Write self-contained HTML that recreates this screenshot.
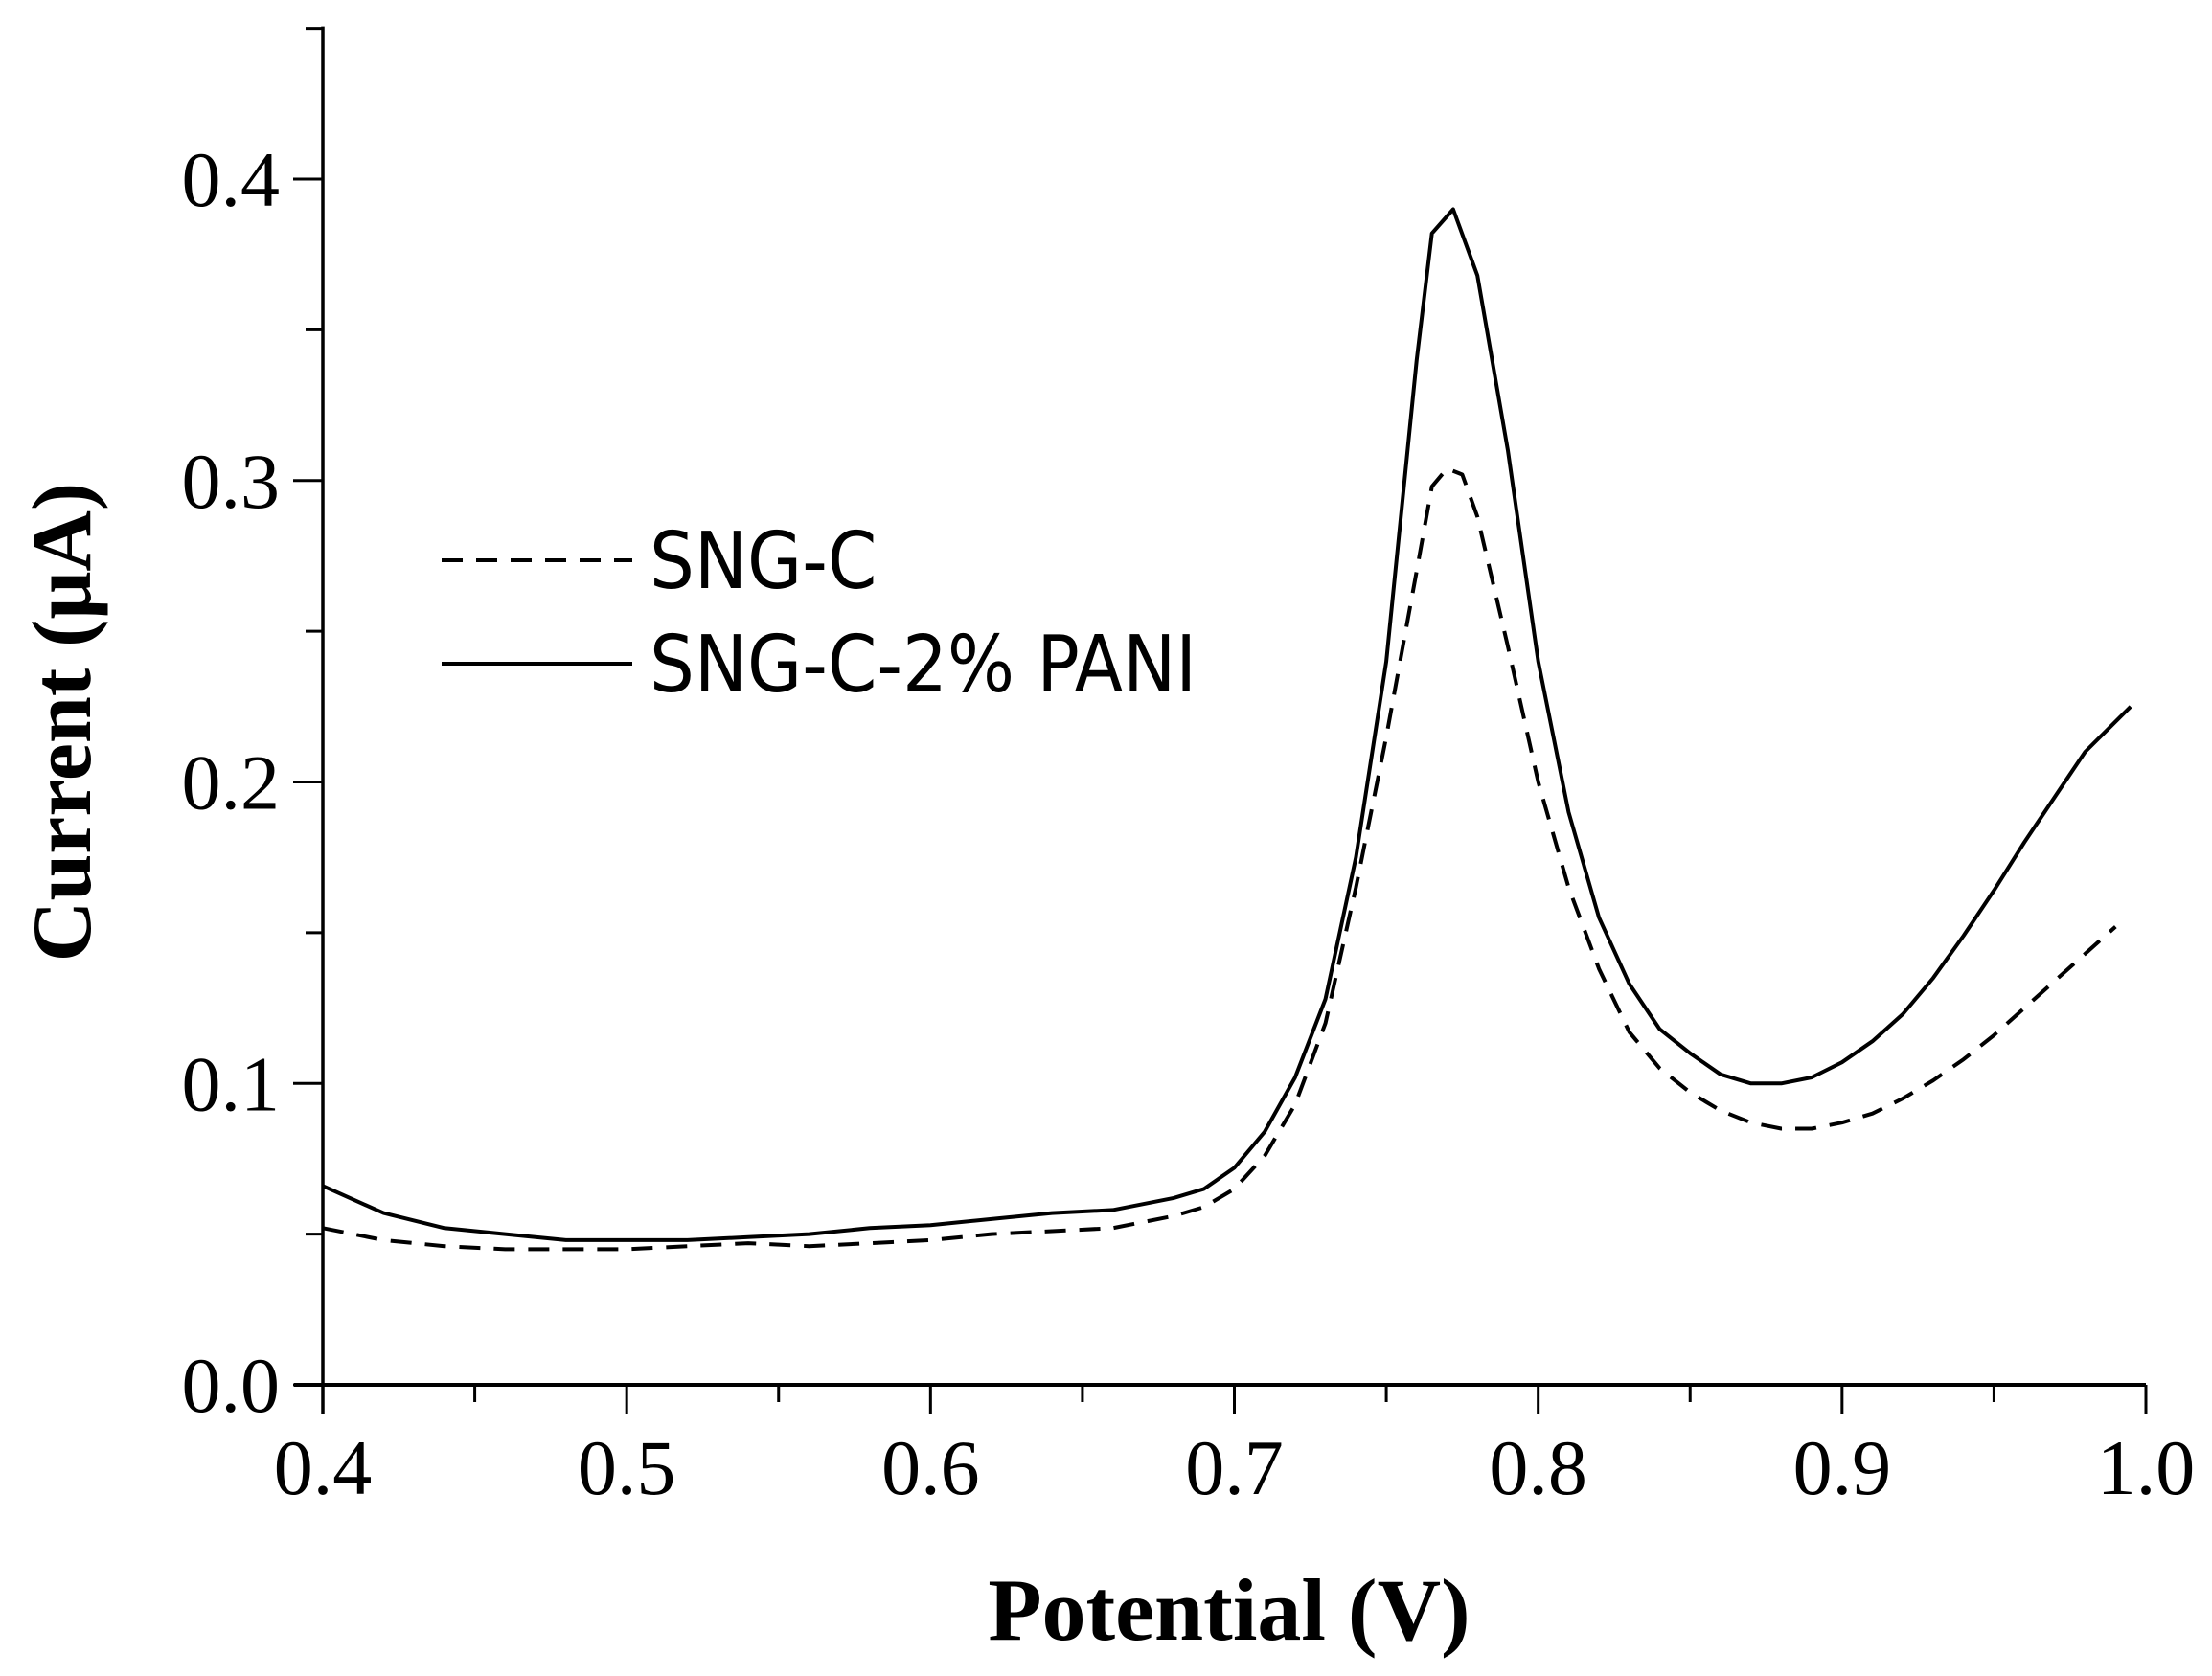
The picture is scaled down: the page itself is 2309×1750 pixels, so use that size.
<!DOCTYPE html>
<html><head><meta charset="utf-8"><style>
html,body{margin:0;padding:0;background:#fff;}
svg{display:block;}
</style></head><body>
<svg id="chart" width="2309" height="1750" viewBox="0 0 2309 1750" xmlns="http://www.w3.org/2000/svg">
<g id="axes"></g>
<g id="series"></g>
<g id="legend">
  <line x1="461" y1="585" x2="660" y2="585" stroke="#000" stroke-width="4" stroke-dasharray="22,14"/>
  <text x="678" y="614" font-family="'DejaVu Sans Condensed','Liberation Sans',sans-serif" font-size="82">SNG-C</text>
  <line x1="461" y1="693" x2="660" y2="693" stroke="#000" stroke-width="4"/>
  <text x="678" y="722" font-family="'DejaVu Sans Condensed','Liberation Sans',sans-serif" font-size="82">SNG-C-2% PANI</text>
</g>
<text x="1283" y="1712" text-anchor="middle" font-family="'Liberation Serif',serif" font-weight="bold" font-size="92">Potential (V)</text>
<text transform="translate(94,754) rotate(-90)" text-anchor="middle" font-family="'Liberation Serif',serif" font-weight="bold" font-size="88">Current (μA)</text>
</svg>
<script>
const xTicks = [0.4,0.5,0.6,0.7,0.8,0.9,1.0];
const xTickLabels = ["0.4","0.5","0.6","0.7","0.8","0.9","1.0"];
const yTicks = [0.0,0.1,0.2,0.3,0.4];
const yTickLabels = ["0.0","0.1","0.2","0.3","0.4"];
const solidX = [0.40,0.42,0.44,0.46,0.48,0.50,0.52,0.54,0.56,0.58,0.60,0.62,0.64,0.66,0.68,0.69,0.70,0.71,0.72,0.73,0.74,0.75,0.76,0.765,0.772,0.78,0.79,0.80,0.81,0.82,0.83,0.84,0.85,0.86,0.87,0.88,0.89,0.90,0.91,0.92,0.93,0.94,0.95,0.96,0.97,0.98,0.995];
const solidY = [0.066,0.057,0.052,0.050,0.048,0.048,0.048,0.049,0.050,0.052,0.053,0.055,0.057,0.058,0.062,0.065,0.072,0.084,0.102,0.128,0.175,0.240,0.340,0.382,0.390,0.368,0.310,0.240,0.190,0.155,0.133,0.118,0.110,0.103,0.100,0.100,0.102,0.107,0.114,0.123,0.135,0.149,0.164,0.180,0.195,0.210,0.225];
const dashX = [0.40,0.42,0.44,0.46,0.48,0.50,0.52,0.54,0.56,0.58,0.60,0.62,0.64,0.66,0.68,0.69,0.70,0.71,0.72,0.73,0.74,0.75,0.76,0.765,0.77,0.775,0.78,0.79,0.80,0.81,0.82,0.83,0.84,0.85,0.86,0.87,0.88,0.89,0.90,0.91,0.92,0.93,0.94,0.95,0.96,0.97,0.98,0.99];
const dashY = [0.052,0.048,0.046,0.045,0.045,0.045,0.046,0.047,0.046,0.047,0.048,0.050,0.051,0.052,0.056,0.059,0.065,0.076,0.093,0.120,0.165,0.215,0.270,0.298,0.304,0.302,0.288,0.245,0.200,0.165,0.138,0.117,0.105,0.097,0.091,0.087,0.085,0.085,0.087,0.090,0.095,0.101,0.108,0.116,0.125,0.134,0.143,0.152];

const NS="http://www.w3.org/2000/svg";
const X0=337,X1=2240,Y0=1446,Y1=187;
const xs=v=>X0+(v-0.4)/0.6*(X1-X0);
const ys=v=>Y0-(v/0.4)*(Y0-Y1);
function mk(tag,attrs,parent){const e=document.createElementNS(NS,tag);for(const k in attrs)e.setAttribute(k,attrs[k]);parent.appendChild(e);return e;}
const axes=document.getElementById('axes');
const yl=mk('line',{x1:X0,y1:ys(0.45)-2,x2:X0,y2:Y0+30,stroke:'#000','stroke-width':3.5},axes);


const xl=mk('line',{x1:X0-30,y1:Y0,x2:X1,y2:Y0,stroke:'#000','stroke-width':4},axes);


for(let i=0;i<=12;i++){const v=0.4+i*0.05;const major=i%2===0;
 const t=mk('line',{x1:xs(v),y1:Y0,x2:xs(v),y2:Y0+(major?30:18),stroke:'#000','stroke-width':3},axes);
 
 }
for(let i=0;i<=9;i++){const v=i*0.05;const major=i%2===0;
 const t=mk('line',{x1:X0-(major?31:18),y1:ys(v),x2:X0,y2:ys(v),stroke:'#000','stroke-width':3},axes);
 
 }
xTicks.forEach((v,i)=>{const t=mk('text',{x:xs(v),y:1560,'text-anchor':'middle','font-family':"'Liberation Serif',serif",'font-size':82},axes);t.textContent=xTickLabels[i];
 
 });
yTicks.forEach((v,i)=>{const t=mk('text',{x:292,y:ys(v)+28,'text-anchor':'end','font-family':"'Liberation Serif',serif",'font-size':82},axes);t.textContent=yTickLabels[i];
 
 });
const series=document.getElementById('series');
function pts(X,Y){return X.map((x,i)=>xs(x).toFixed(1)+','+ys(Y[i]).toFixed(1)).join(' ');}
const d=mk('polyline',{points:pts(dashX,dashY),fill:'none',stroke:'#000','stroke-width':4,'stroke-dasharray':'22,14','stroke-linejoin':'round'},series);


const s=mk('polyline',{points:pts(solidX,solidY),fill:'none',stroke:'#000','stroke-width':4,'stroke-linejoin':'round'},series);


</script>
</body></html>
